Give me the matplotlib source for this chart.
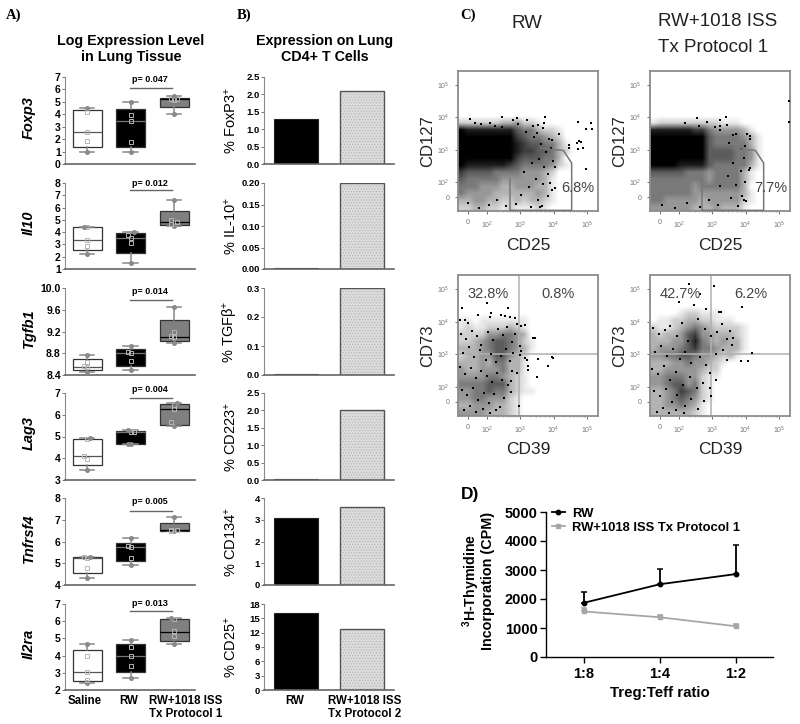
import matplotlib
matplotlib.use('Agg')
import matplotlib.pyplot as plt
from matplotlib.colors import PowerNorm
from matplotlib.lines import Line2D
import numpy as np

plt.rcParams['font.family'] = ['Liberation Sans', 'DejaVu Sans']
plt.rcParams['mathtext.default'] = 'regular'
plt.rcParams['hatch.linewidth'] = 0.5

W, H = 800.0, 724.0

# panel A: box stats are [whisker low, q1, median, q3, whisker high]
genes = ['Foxp3', 'Il10', 'Tgfb1', 'Lag3', 'Tnfrsf4', 'Il2ra']
gene_ticks = [[0, 1, 2, 3, 4, 5, 6, 7],
              [1, 2, 3, 4, 5, 6, 7, 8],
              [8.4, 8.8, 9.2, 9.6, 10.0],
              [3, 4, 5, 6, 7],
              [4, 5, 6, 7, 8],
              [2, 3, 4, 5, 6, 7]]
p_values = ['p= 0.047', 'p= 0.012', 'p= 0.014', 'p= 0.004', 'p= 0.005', 'p= 0.013']

foxp3_box = [[1.0, 1.4, 2.6, 4.35, 4.5], [0.95, 1.35, 3.45, 4.4, 4.95], [4.05, 4.6, 5.2, 5.35, 5.5]]
il10_box = [[2.25, 2.55, 3.35, 4.4, 4.45], [1.5, 2.3, 3.5, 3.95, 4.05], [4.5, 4.55, 4.8, 5.75, 6.6]]
tgfb1_box = [[8.46, 8.5, 8.55, 8.7, 8.76], [8.5, 8.57, 8.8, 8.87, 8.93], [8.98, 9.02, 9.1, 9.42, 9.65]]
lag3_box = [[3.45, 3.7, 4.1, 4.9, 4.95], [4.65, 4.65, 5.2, 5.25, 5.28], [5.5, 5.55, 6.25, 6.5, 6.52]]
tnfrsf4_box = [[4.33, 4.55, 5.25, 5.28, 5.3], [4.9, 5.1, 5.75, 5.95, 6.15], [6.47, 6.47, 6.55, 6.85, 7.12]]
il2ra_box = [[2.4, 2.5, 3.05, 4.35, 4.7], [2.7, 3.05, 4.0, 4.7, 4.9], [4.7, 4.85, 5.35, 6.1, 6.2]]

foxp3_pts = [[1.0, 1.85, 2.6, 4.2, 4.5], [0.95, 1.8, 3.45, 3.95, 4.95], [4.05, 5.15, 5.2, 5.2, 5.5]]
il10_pts = [[2.25, 2.85, 3.4, 4.4, 4.45], [1.5, 3.1, 3.55, 3.8, 4.05], [4.5, 4.7, 4.85, 5.0, 6.6]]
tgfb1_pts = [[8.46, 8.54, 8.56, 8.64, 8.76], [8.5, 8.65, 8.8, 8.82, 8.93], [8.98, 9.1, 9.12, 9.2, 9.65]]
lag3_pts = [[3.45, 3.97, 4.1, 4.87, 4.95], [4.67, 4.67, 5.2, 5.2, 5.28], [5.5, 5.65, 6.25, 6.45, 6.52]]
tnfrsf4_pts = [[4.33, 4.8, 5.25, 5.27, 5.3], [4.9, 5.25, 5.75, 5.8, 6.15], [6.47, 6.5, 6.55, 6.55, 7.12]]
il2ra_pts = [[2.4, 2.6, 3.05, 3.95, 4.65], [2.7, 3.4, 4.0, 4.5, 4.9], [4.7, 5.15, 5.45, 6.1, 6.2]]

gene_boxes = [foxp3_box, il10_box, tgfb1_box, lag3_box, tnfrsf4_box, il2ra_box]
gene_points = [foxp3_pts, il10_pts, tgfb1_pts, lag3_pts, tnfrsf4_pts, il2ra_pts]

# panel B
bar_labels = ['% FoxP3$^{+}$', '% IL-10$^{+}$', '% TGF\u03b2$^{+}$', '% CD223$^{+}$', '% CD134$^{+}$', '% CD25$^{+}$']
bar_rw = [1.3, 0.002, 0.002, 0.03, 3.1, 16.2]
bar_iss = [2.1, 0.2, 0.3, 2.0, 3.6, 12.8]
bar_ticks = [['0.0', '0.5', '1.0', '1.5', '2.0', '2.5'],
             ['0.00', '0.05', '0.10', '0.15', '0.20'],
             ['0.0', '0.1', '0.2', '0.3'],
             ['0.0', '0.5', '1.0', '1.5', '2.0', '2.5'],
             ['0', '1', '2', '3', '4'],
             ['0', '3', '6', '9', '12', '15', '18']]

cd25_rw_grid = ['', '', '', '', '', '', '',
                '22222233422100',
                '98888888655322100',
                '99999999765543200',
                '99999999876655310',
                '99999999877665320',
                '99999999766655300',
                '98888887655554210',
                '76666555544432',
                '65555544444431',
                '55544433444331',
                '54444333333431',
                '33443322323321',
                '22332212111210']
cd25_iss_grid = ['', '', '', '', '', '', '',
                 '12222222221110',
                 '88888877544443100',
                 '99999999655554310',
                 '99999999655555310',
                 '99999999666655410',
                 '99999999666655410',
                 '99998888655555310',
                 '66666555455553100',
                 '55555555455553100',
                 '55555545555553',
                 '55555544444443100',
                 '55444443444442100',
                 '44444433343331']
cd39_rw_grid = ['', '', '', '', '', '',
                '1101111111',
                '1211222321',
                '2222445543',
                '22345665421',
                '33345665431',
                '23344664320',
                '33343553310',
                '43344453310',
                '44445543210',
                '55556663210',
                '44556553211',
                '44554442100',
                '33444332100',
                '44443332100']
cd39_iss_grid = ['', '', '', '', '',
                 '00001221110000',
                 '01122332211100',
                 '21123454322221',
                 '32334674433321',
                 '33344685434331',
                 '34445675543331',
                 '44556654432310',
                 '33344544321000',
                 '33444443220000',
                 '44555442110000',
                 '44566452100000',
                 '33457652100000',
                 '33456542100000',
                 '33445431000000',
                 '33333321000000']

# single events, in decades of the display scale
cd25_rw_x = [4.72, 5.12, 4.96, 5.15, 4.16, 4.47, 4.76, 4.82, 4.69, 4.89, 4.72, 4.46, 4.97, 3.99, 4.04,
             3.74, 2.89, 2.44, 1.49, 1.64, 1.82, 3.19, 3.37, 3.54, 3.72, 3.49, 3.87, 3.94, 3.69, 4.04,
             3.94, 3.89, 3.84, 3.66, 3.59, 2.94, 2.79, 2.24, 2.09, 2.44,
             3.18, 3.41, 3.62, 3.78, 3.91, 3.55, 3.71, 3.84, 3.36, 3.12, 3.48, 3.68, 3.25, 3.02, 3.52,
             2.88, 2.58, 2.31, 2.05, 1.76, 1.42, 3.31]
cd25_rw_y = [3.87, 3.82, 3.63, 3.63, 3.48, 3.15, 3.27, 3.25, 3.20, 3.05, 3.02, 3.05, 2.41, 2.64, 2.48,
             4.00, 3.97, 4.02, 3.95, 3.84, 3.79, 3.93, 3.72, 3.77, 3.82, 3.51, 3.34, 3.29, 3.66, 1.82,
             1.77, 1.97, 1.56, 1.25, 1.22, 3.78, 3.92, 3.74, 3.82, 3.70,
             3.55, 3.38, 3.19, 2.92, 3.05, 2.71, 2.47, 2.25, 2.58, 2.31, 2.11, 1.93, 1.84, 1.61, 1.44,
             1.34, 1.27, 1.45, 1.31, 1.19, 1.36, 1.22]
cd25_iss_x = [5.30, 5.30, 2.19, 2.54, 2.61, 2.84, 3.09, 3.22, 3.42, 3.44, 3.24, 3.62, 4.04, 4.12, 4.14,
              3.99, 4.14, 4.09, 3.99, 4.02, 3.94, 3.89,
              3.22, 3.49, 3.71, 3.87, 3.94, 3.62, 3.85, 3.47, 3.71, 3.24, 3.55, 3.18, 3.76, 2.91, 2.62,
              2.24, 1.87, 1.48]
cd25_iss_y = [4.50, 3.87, 3.81, 3.97, 3.74, 3.85, 3.69, 3.92, 4.00, 3.77, 3.72, 3.46, 3.48, 3.41, 3.34,
              3.13, 2.45, 2.38, 2.02, 1.41, 1.46, 1.56,
              3.62, 3.21, 3.48, 3.02, 2.76, 2.58, 2.33, 2.19, 1.91, 1.88, 1.52, 1.31, 1.26, 1.44, 1.22,
              1.36, 1.21, 1.29]
cd39_rw_x = [1.24, 2.01, 2.62, 1.74, 2.11, 2.09, 2.42, 2.54, 2.69, 2.84, 1.34, 1.44, 1.19, 3.01, 3.14,
             2.89, 3.44, 3.39, 2.99, 3.01, 2.99, 3.14, 3.19, 3.54, 3.94, 3.99, 3.82, 3.24, 3.24, 3.49,
             2.97, 2.89, 2.74, 2.72,
             1.22, 1.38, 1.55, 1.71, 1.83, 2.02, 2.17, 2.33, 2.48, 2.61, 2.75, 2.84,
             1.27, 1.46, 1.62, 1.78, 1.96, 2.12, 2.28, 2.41, 2.57, 2.69, 2.78,
             1.19, 1.35, 1.51, 1.66, 1.82, 1.99, 2.15, 2.31, 2.46, 2.63, 2.72,
             1.24, 1.41, 1.58, 1.74, 1.90, 2.06, 2.22, 2.38, 2.52, 1.31, 1.49, 1.67, 1.88, 2.09, 2.27]
cd39_rw_y = [4.41, 4.57, 4.43, 4.20, 4.28, 4.13, 4.20, 4.16, 4.13, 4.10, 4.05, 3.97, 4.04, 3.87, 3.89,
             3.92, 3.51, 3.49, 3.25, 3.10, 2.97, 2.89, 2.84, 2.86, 2.91, 2.88, 2.64, 2.64, 2.52, 2.29,
             1.41, 2.43, 2.48, 2.18,
             3.62, 3.48, 3.71, 3.55, 3.29, 3.68, 3.44, 3.77, 3.58, 3.83, 3.39, 3.61,
             3.05, 3.21, 2.93, 3.12, 2.84, 3.02, 2.76, 2.96, 3.15, 2.81, 3.03,
             2.62, 2.41, 2.57, 2.28, 2.49, 2.35, 2.14, 2.44, 2.22, 2.05, 1.85,
             1.92, 1.74, 1.98, 1.61, 1.83, 1.52, 1.77, 1.38, 1.66, 1.29, 1.42, 1.22, 1.33, 1.19, 1.28]
cd39_iss_x = [2.31, 3.04, 3.89, 2.64, 2.01, 2.44, 2.82, 3.19, 3.26, 3.54, 3.62, 4.19, 3.86, 4.08, 3.11,
              2.96, 2.94, 3.44,
              1.21, 1.39, 1.57, 1.74, 1.93, 2.08, 2.26, 2.58, 2.77, 2.95, 3.14, 3.29, 3.44, 3.58, 3.33, 3.12,
              1.28, 1.46, 1.63, 1.82, 2.02, 2.19, 2.37, 2.63, 2.81, 2.92, 1.18, 1.37, 1.54, 1.72, 1.91,
              2.13, 2.34, 2.55, 2.71, 1.25, 1.42, 1.60, 1.78, 1.95, 2.17, 2.36, 2.58, 2.74, 1.33, 1.52,
              1.71, 1.92, 2.15]
cd39_iss_y = [5.15, 5.08, 4.45, 4.84, 4.61, 4.52, 4.38, 4.30, 4.30, 3.72, 3.51, 3.04, 2.81, 2.81, 2.21,
              1.71, 1.97, 2.84,
              3.81, 3.62, 3.74, 3.88, 3.55, 3.95, 3.41, 4.08, 3.79, 3.56, 3.69, 3.92, 3.47, 3.28, 3.14, 3.02,
              3.08, 3.24, 2.95, 3.17, 2.86, 3.06, 2.72, 2.91, 2.66, 2.44, 2.55, 2.39, 2.63, 2.21, 2.47,
              2.05, 2.31, 1.96, 2.12, 1.88, 1.71, 1.94, 1.55, 1.76, 1.43, 1.62, 1.31, 1.57, 1.24, 1.37,
              1.19, 1.28, 1.21]

gate_x = [2.69, 2.69, 4.54, 4.54, 4.29, 4.04, 3.6]
gate_y = [2.1, 1.13, 1.13, 2.59, 2.98, 3.0, 3.05]
quad_x = 2.96
quad_y = 3.0

# panel D
ratios = ['1:8', '1:4', '1:2']
rw_cpm = [1870, 2510, 2860]
rw_err = [370, 510, 1000]
iss_cpm = [1570, 1370, 1060]
iss_err = [130, 70, 80]

fig = plt.figure(figsize=(8, 7.24), dpi=100)


def px_axes(l, t, r, b):
    return fig.add_axes([l / W, 1 - b / H, (r - l) / W, (b - t) / H])


def txt(x, y, s, **kw):
    kw.setdefault('ha', 'center')
    kw.setdefault('va', 'center')
    return fig.text(x / W, 1 - y / H, s, **kw)


def px_line(x0, x1, y, color='#555555', lw=1.0):
    fig.add_artist(Line2D([x0 / W, x1 / W], [1 - y / H, 1 - y / H], color=color, lw=lw))


def clean(ax, ticksize=7.5):
    ax.spines['top'].set_visible(False)
    ax.spines['right'].set_visible(False)
    ax.spines['left'].set_color('#8a8a8a')
    ax.spines['bottom'].set_color('#666666')
    ax.spines['bottom'].set_linewidth(1.2)
    ax.tick_params(axis='y', length=2, width=0.7, color='#777777', labelsize=ticksize, pad=1)
    for t in ax.get_yticklabels():
        t.set_fontweight('bold')


txt(13.5, 15, 'A)', family='Liberation Serif', fontweight='bold', fontsize=10.5)
txt(244, 15, 'B)', family='Liberation Serif', fontweight='bold', fontsize=10.5)
txt(468, 15, 'C)', family='Liberation Serif', fontweight='bold', fontsize=10.5)
txt(131, 41, 'Log Expression Level', fontweight='bold', fontsize=10.3)
txt(131, 57, 'in Lung Tissue', fontweight='bold', fontsize=10.3)
txt(325, 41, 'Expression on Lung', fontweight='bold', fontsize=10.3)
txt(325, 57, 'CD4+ T Cells', fontweight='bold', fontsize=10.3)

# rows in pixels: top, bottom
rows = [(77, 164), (183, 269), (288, 375), (393, 480), (498, 585), (604, 690)]
p_text_y = [79, 183, 292, 390, 502, 603]
p_line_y = [88, 190, 300, 398, 511, 611]
box_colors = ['white', 'black', '#808080']
median_colors = ['#555555', '#777777', 'black']

for i, gene in enumerate(genes):
    t, b = rows[i]
    ax = px_axes(65, t, 195, b)
    stats = [dict(whislo=s[0], q1=s[1], med=s[2], q3=s[3], whishi=s[4], fliers=[]) for s in gene_boxes[i]]
    parts = ax.bxp(stats, positions=[1, 2, 3], widths=0.667, patch_artist=True, showfliers=False,
                   boxprops=dict(edgecolor='#333333', linewidth=0.9),
                   whiskerprops=dict(color='#888888', linewidth=1.1),
                   capprops=dict(color='#888888', linewidth=1.1))
    for j, box in enumerate(parts['boxes']):
        box.set_facecolor(box_colors[j])
        parts['medians'][j].set_color(median_colors[j])
        parts['medians'][j].set_linewidth(0.9)
    span = gene_ticks[i][-1] - gene_ticks[i][0]
    for j, pts in enumerate(gene_points[i]):
        prev = None
        side = -1
        for v in sorted(pts):
            dx = 0.0
            if prev is not None and abs(v - prev) < 0.04 * span:
                dx = 0.07 * side
                side = -side
            prev = v
            if v == pts[0] or v == pts[-1]:
                ax.plot(j + 1 + dx, v, 'o', ms=2.6, color='#8a8a8a', zorder=5)
            else:
                ax.plot(j + 1 + dx, v, 's', ms=2.6, mfc='none', mec='#b5b5b5', mew=0.7, zorder=5)
    ax.set_xlim(0.494, 3.48)
    ax.set_ylim(gene_ticks[i][0], gene_ticks[i][-1])
    ax.set_xticks([])
    ax.set_yticks(gene_ticks[i])
    if i == 2:
        ax.set_yticklabels(['%.1f' % v for v in gene_ticks[i]])
    else:
        ax.set_yticklabels([str(v) for v in gene_ticks[i]])
    clean(ax)
    txt(29, (t + b) / 2.0 - 3, gene, rotation=90, style='italic', fontweight='bold', fontsize=10.5)
    txt(150, p_text_y[i], p_values[i], fontweight='bold', fontsize=6.5)
    px_line(130, 172, p_line_y[i], color='#666666', lw=1.0)

txt(85, 701, 'Saline', fontweight='bold', fontsize=8.3)
txt(129, 701, 'RW', fontweight='bold', fontsize=8.3)
txt(186, 701, 'RW+1018 ISS', fontweight='bold', fontsize=8.3)
txt(186, 714, 'Tx Protocol 1', fontweight='bold', fontsize=8.3)

for i, lab in enumerate(bar_labels):
    t, b = rows[i]
    ax = px_axes(264, t, 394, b)
    ax.bar(0, bar_rw[i], width=0.665, color='black', edgecolor='#222222', linewidth=0.8)
    ax.bar(1, bar_iss[i], width=0.665, facecolor='#dcdcdc', edgecolor='#b4b4b4', hatch='......', linewidth=0)
    ax.bar(1, bar_iss[i], width=0.665, facecolor='none', edgecolor='#555555', linewidth=1.0)
    ax.set_xlim(-0.49, 1.49)
    vals = [float(v) for v in bar_ticks[i]]
    ax.set_ylim(vals[0], vals[-1])
    ax.set_xticks([])
    ax.set_yticks(vals)
    ax.set_yticklabels(bar_ticks[i])
    clean(ax, ticksize=6.8)
    txt(231, (t + b) / 2.0, lab, rotation=90, fontsize=10.5)

txt(295, 701, 'RW', fontweight='bold', fontsize=8.3)
txt(365, 701, 'RW+1018 ISS', fontweight='bold', fontsize=8.3)
txt(365, 714, 'Tx Protocol 2', fontweight='bold', fontsize=8.3)

# flow plots
txt(527, 23, 'RW', fontsize=13.5, color='#222222')
txt(718, 21, 'RW+1018 ISS', fontsize=13.5, color='#222222')
txt(658, 47, 'Tx Protocol 1', fontsize=13.5, color='#222222', ha='left')

flow_boxes = [(458, 71, 598, 211), (650, 71, 790, 211), (458, 275, 598, 416), (650, 275, 790, 416)]
flow_grids = [cd25_rw_grid, cd25_iss_grid, cd39_rw_grid, cd39_iss_grid]
flow_x = [cd25_rw_x, cd25_iss_x, cd39_rw_x, cd39_iss_x]
flow_y = [cd25_rw_y, cd25_iss_y, cd39_rw_y, cd39_iss_y]
flow_xlabel = ['CD25', 'CD25', 'CD39', 'CD39']
flow_ylabel = ['CD127', 'CD127', 'CD73', 'CD73']
decades = [2, 3, 4, 5]
minor = [d + np.log10(m) for d in [2, 3, 4] for m in range(2, 10)]

for k in range(4):
    l, t, r, b = flow_boxes[k]
    ax = px_axes(l, t, r, b)
    g = np.array([[int(c) for c in row.ljust(20, '0')] for row in flow_grids[k]])
    ax.imshow(g, cmap='gray_r', norm=PowerNorm(1.1, vmin=0, vmax=9), extent=(1.13, 5.33, 1.11, 5.43),
              origin='upper', aspect='auto', interpolation='bilinear', zorder=1)
    ax.scatter(flow_x[k], flow_y[k], s=2.0, c='black', marker='s', linewidths=0, zorder=3)
    ax.set_xlim(1.13, 5.33)
    ax.set_ylim(1.11, 5.43)
    for sp in ax.spines.values():
        sp.set_color('#8c8c8c')
        sp.set_linewidth(1.3)
    ax.set_xticks([1.43] + decades)
    ax.set_yticks([1.54] + decades)
    ax.set_xticks(minor, minor=True)
    ax.set_yticks(minor, minor=True)
    labs = ['0', '$10^{2}$', '$10^{3}$', '$10^{4}$', '$10^{5}$']
    ax.set_xticklabels(labs, fontsize=5, color='#777777')
    ax.set_yticklabels(labs, fontsize=5, color='#777777')
    ax.tick_params(which='major', length=2, width=0.6, color='#555555', pad=4)
    ax.tick_params(which='minor', length=1, width=0.4, color='#777777')
    if k < 2:
        ax.plot(gate_x, gate_y, color='#777777', lw=1.1, zorder=4)
    else:
        ax.axvline(quad_x, color='#b0b0b0', lw=1.1, zorder=2)
        ax.axhline(quad_y, color='#b0b0b0', lw=1.1, zorder=2)
    txt((l + r) / 2.0, b + 34, flow_xlabel[k], fontsize=12.5, color='#222222')
    txt(l - 30, (t + b) / 2.0, flow_ylabel[k], rotation=90, fontsize=12, color='#222222')

pct = dict(fontsize=10.5, color='#444444')
txt(578, 188, '6.8%', **pct)
txt(771, 188, '7.7%', **pct)
txt(488, 294, '32.8%', **pct)
txt(558, 294, '0.8%', **pct)
txt(680, 294, '42.7%', **pct)
txt(751, 294, '6.2%', **pct)

# proliferation panel
txt(470, 495, 'D)', fontweight='bold', fontsize=12.5)
ax = px_axes(546, 512, 773, 657)
xpos = [0, 1, 2]
ax.errorbar(xpos, rw_cpm, yerr=[[0, 0, 0], rw_err], color='black', fmt='none',
            elinewidth=1.3, capsize=2.5, capthick=1.1)
ax.errorbar(xpos, iss_cpm, yerr=[[0, 0, 0], iss_err], color='#a6a6a6', fmt='none',
            elinewidth=1.3, capsize=2.5, capthick=1.1)
ax.plot(xpos, rw_cpm, color='black', marker='o', ms=3.2, lw=1.3, label='RW')
ax.plot(xpos, iss_cpm, color='#a6a6a6', marker='s', ms=3.5, lw=1.3, label='RW+1018 ISS Tx Protocol 1')
ax.set_xlim(-0.5, 2.487)
ax.set_ylim(0, 5000)
ax.set_xticks(xpos)
ax.set_xticklabels(ratios, fontsize=10.5, fontweight='bold')
ax.set_yticks([0, 1000, 2000, 3000, 4000, 5000])
ax.tick_params(axis='y', labelsize=10.5, length=4, width=1.0, pad=2)
ax.tick_params(axis='x', length=4, width=1.0, pad=3)
for t_ in ax.get_yticklabels():
    t_.set_fontweight('bold')
ax.spines['top'].set_visible(False)
ax.spines['right'].set_visible(False)
ax.spines['left'].set_linewidth(1.0)
ax.spines['bottom'].set_linewidth(1.0)
ax.legend(loc='upper left', bbox_to_anchor=(0.026, 1.03), frameon=False, handlelength=1.0, handletextpad=0.55,
          labelspacing=0.15, borderaxespad=0, borderpad=0, prop=dict(weight='bold', size=9.4))
txt(660, 693, 'Treg:Teff ratio', fontweight='bold', fontsize=10.8)
txt(471, 581, '$^{3}$H-Thymidine', rotation=90, fontweight='bold', fontsize=10.2)
txt(488, 581, 'Incorporation (CPM)', rotation=90, fontweight='bold', fontsize=10.4)

fig.savefig('out.png', dpi=100)
